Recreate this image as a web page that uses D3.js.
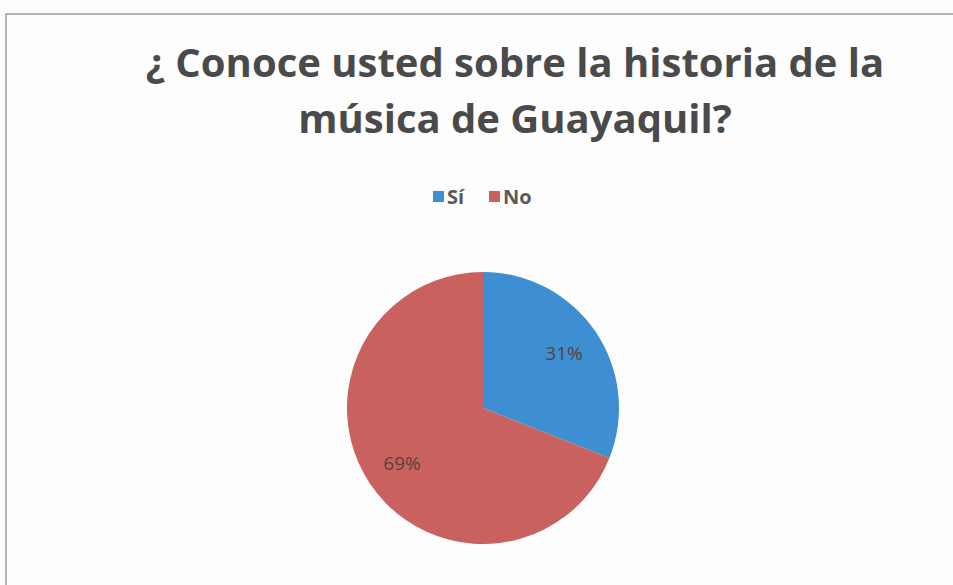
<!DOCTYPE html>
<html><head><meta charset="utf-8">
<script src="https://cdn.jsdelivr.net/npm/d3@7"></script>
<style>body{margin:0;background:#fff}svg{display:block}</style>
</head><body>
<script>
const categories = ["Sí", "No"];
const values = [31, 69];
const labels = ["31%", "69%"];
const colors = ["#3d8fd1", "#c9615f"];
const titleLines = ["¿ Conoce usted sobre la historia de la", "música de Guayaquil?"];

const W = 953, H = 585;
const svg = d3.select("body").append("svg").attr("width", W).attr("height", H);
svg.append("rect").attr("width", W).attr("height", H).attr("fill", "#fdfdfd");
// frame
svg.append("path").attr("d", "M6,585 L6,14 L953,14").attr("fill", "none").attr("stroke", "#9a9a9a").attr("stroke-width", 1.5);

svg.selectAll("text.title").data(titleLines).enter().append("text")
  .attr("class", "title")
  .attr("x", 515).attr("y", (d, i) => 77 + i * 56)
  .attr("text-anchor", "middle")
  .attr("font-family", "Open Sans, Lato, sans-serif").attr("font-weight", "bold")
  .attr("font-size", 40).attr("fill", "#4a4a4a")
  .text(d => d);

// legend
const legend = svg.append("g").attr("font-family", "Open Sans, sans-serif").attr("font-weight", "bold").attr("font-size", 20).attr("fill", "#5a5a5a");
const lx = [433, 489];
categories.forEach((c, i) => {
  legend.append("rect").attr("x", lx[i]).attr("y", 191).attr("width", 11).attr("height", 11).attr("fill", colors[i]);
  legend.append("text").attr("x", lx[i] + 14).attr("y", 204).text(c);
});

// pie
const cx = 483, cy = 408, r = 136;
const pie = d3.pie().sort(null).value(d => d)(values);
const arc = d3.arc().innerRadius(0).outerRadius(r);
const g = svg.append("g").attr("transform", `translate(${cx},${cy})`);
g.selectAll("path").data(pie).enter().append("path")
  .attr("d", arc).attr("fill", (d, i) => colors[i]);
const labelArc = d3.arc().innerRadius(r * 0.72).outerRadius(r * 0.72);
g.selectAll("text").data(pie).enter().append("text")
  .attr("transform", (d) => `translate(${labelArc.centroid(d)})`)
  .attr("text-anchor", "middle").attr("dy", "0.35em")
  .attr("font-family", "Open Sans, sans-serif").attr("font-size", 19)
  .attr("fill", "#5a4040")
  .text((d, i) => labels[i]);
</script>
</body></html>
